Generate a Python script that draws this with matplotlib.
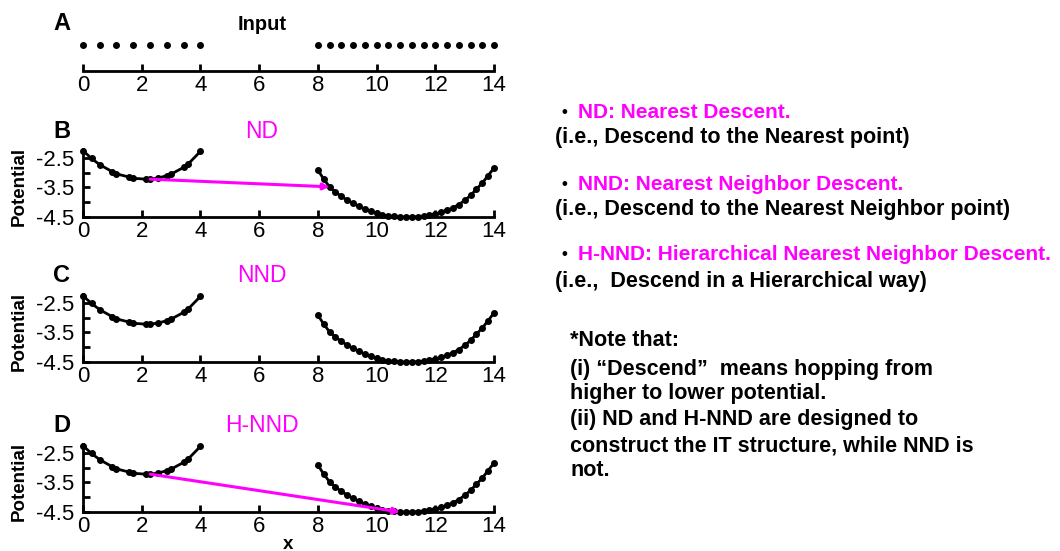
import matplotlib.pyplot as plt

plt.rcParams['font.family'] = ['Liberation Sans', 'DejaVu Sans']

MAGENTA = '#ff00ff'

# input points (panel A)
input_left = [0, 0.57, 1.14, 1.71, 2.29, 2.86, 3.43, 4.0]
input_right = [8.0, 8.4, 8.8, 9.2, 9.6, 10.0, 10.4, 10.8, 11.2, 11.6,
               12.0, 12.4, 12.8, 13.2, 13.6, 14.0]

# potential curves (panels B-D)
left_x = [0, 0.29, 0.57, 1.0, 1.14, 1.57, 1.71, 2.14, 2.29, 2.57, 2.86, 3.0,
          3.43, 3.57, 4.0]
left_y = [-2.26, -2.52, -2.73, -2.97, -3.04, -3.15, -3.19, -3.22, -3.22,
          -3.18, -3.10, -3.05, -2.82, -2.72, -2.28]
right_x = [8.0, 8.2, 8.4, 8.6, 8.8, 9.0, 9.2, 9.4, 9.6, 9.8, 10.0, 10.2, 10.4,
           10.6, 10.8, 11.0, 11.2, 11.4, 11.6, 11.8, 12.0, 12.2, 12.4, 12.6,
           12.8, 13.0, 13.2, 13.4, 13.6, 13.8, 14.0]
right_y = [-2.91, -3.22, -3.48, -3.66, -3.80, -3.93, -4.04, -4.14, -4.23,
           -4.31, -4.38, -4.43, -4.46, -4.48, -4.50, -4.50, -4.50, -4.49,
           -4.47, -4.44, -4.40, -4.34, -4.27, -4.19, -4.08, -3.94, -3.77,
           -3.56, -3.35, -3.10, -2.84]

# hops: (index in left curve, index in right curve)
nd_hop = (8, 2)
hnnd_hop = (8, 14)

xticks = [0, 2, 4, 6, 8, 10, 12, 14]

fig = plt.figure(figsize=(10.6, 5.51), dpi=100)
W, H = 1060, 551


def px_axes(top, bottom, left=83, right=494):
    return fig.add_axes([left / W, 1 - bottom / H, (right - left) / W, (bottom - top) / H])


def style_axis(ax):
    for s in ['top', 'right']:
        ax.spines[s].set_visible(False)
    for s in ['left', 'bottom']:
        ax.spines[s].set_linewidth(2)
    ax.set_xlim(0, 14)
    ax.set_xticks(xticks)
    ax.tick_params(direction='in', length=5, width=2, labelsize=16)
    ax.tick_params(axis='x', pad=3)
    ax.tick_params(axis='y', pad=6)


# panel A
axA = px_axes(35, 71)
style_axis(axA)
axA.spines['left'].set_visible(False)
axA.set_yticks([])
axA.set_ylim(0, 1)
axA.plot(input_left, [0.72] * len(input_left), 'o', color='black', ms=4, clip_on=False)
axA.plot(input_right, [0.72] * len(input_right), 'o', color='black', ms=4, clip_on=False)
fig.text(62 / W, 1 - 24 / H, 'A', fontsize=17, fontweight='bold', ha='center', va='center')
fig.text(262 / W, 1 - 24 / H, 'Input', fontsize=14.5, fontweight='bold', ha='center', va='center')

panels = [
    (149, 217, 'B', 'ND', nd_hop),
    (294, 362, 'C', 'NND', None),
    (444, 512, 'D', 'H-NND', hnnd_hop),
]
for top, bottom, letter, title, hop in panels:
    ax = px_axes(top, bottom)
    style_axis(ax)
    ax.set_ylim(-4.5, -2.2)
    ax.set_yticks([-2.5, -3.5, -4.5])
    ax.set_yticks([-3.0, -4.0], minor=True)
    ax.tick_params(axis='y', which='minor', direction='in', length=5, width=2)
    ax.set_yticklabels(['-2.5', '-3.5', '-4.5'])
    ax.plot(left_x, left_y, '-o', color='black', lw=2, ms=4, clip_on=False)
    ax.plot(right_x, right_y, '-o', color='black', lw=2, ms=4, clip_on=False)
    if hop is not None:
        i, j = hop
        ax.annotate('', xy=(right_x[j], right_y[j]), xytext=(left_x[i], left_y[i]),
                    arrowprops=dict(arrowstyle='-|>', color=MAGENTA, lw=2.2,
                                    mutation_scale=9, shrinkA=0, shrinkB=0),
                    annotation_clip=False)
    ax.set_ylabel('Potential', fontsize=13.5, fontweight='bold')
    ax.yaxis.set_label_coords(-0.135, 0.45)
    fig.text(62 / W, 1 - (top - 18) / H, letter, fontsize=17, fontweight='bold',
             ha='center', va='center')
    fig.text(262 / W, 1 - (top - 18) / H, title, fontsize=16.5, color=MAGENTA,
             ha='center', va='center')
    if letter == 'D':
        ax.set_xlabel('x', fontsize=13.5, fontweight='bold', labelpad=-1)

# right-hand notes
FS = 15.5
notes = [
    (562, 113, 'ND: Nearest Descent.', True),
    (555, 137, '(i.e., Descend to the Nearest point)', False),
    (562, 184, 'NND: Nearest Neighbor Descent.', True),
    (555, 210, '(i.e., Descend to the Nearest Neighbor point)', False),
    (562, 255, 'H-NND: Hierarchical Nearest Neighbor Descent.', True),
    (555, 281, '(i.e.,  Descend in a Hierarchical way)', False),
]
for x, y, txt, pink in notes:
    if pink:
        fig.text(x / W, 1 - y / H, '\u2022', fontsize=12, fontweight='bold',
                 color='black', va='center')
        fig.text((x + 16) / W, 1 - y / H, txt, fontsize=15, fontweight='bold',
                 color=MAGENTA, va='center')
    else:
        fig.text(x / W, 1 - y / H, txt, fontsize=FS, fontweight='bold', va='center')

note_lines = [
    '*Note that:',
    '(i) \u201cDescend\u201d  means hopping from',
    'higher to lower potential.',
    '(ii) ND and H-NND are designed to',
    'construct the IT structure, while NND is',
    'not.',
]
note_y = [340, 369, 394, 420, 446, 471]
for line, y in zip(note_lines, note_y):
    fig.text(570 / W, 1 - y / H, line, fontsize=FS, fontweight='bold', va='center')

fig.savefig('out.png', dpi=100)
